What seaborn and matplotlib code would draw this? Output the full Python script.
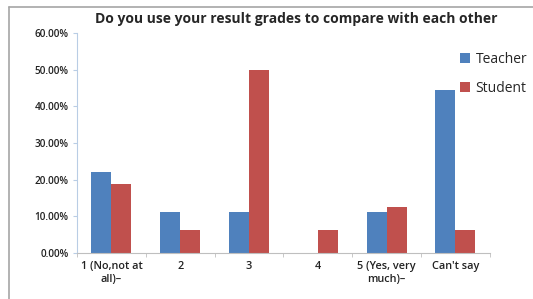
import numpy as np
import pandas as pd
import matplotlib
matplotlib.use("Agg")
import matplotlib.pyplot as plt
from matplotlib.ticker import FuncFormatter, FixedLocator
import seaborn as sns

categories = ["1 (No,not at\nall)\u2013", "2", "3", "4", "5 (Yes, very\nmuch)\u2013", "Can't say"]
teacher = [0.2222, 0.1111, 0.1111, 0.0, 0.1111, 0.4444]
student = [0.1875, 0.0625, 0.50, 0.0625, 0.125, 0.0625]
series = ["Teacher", "Student"]
colors = {"Teacher": "#4F81BD", "Student": "#C0504D"}

df = pd.DataFrame({
    "cat": categories * 2,
    "value": teacher + student,
    "series": ["Teacher"] * len(categories) + ["Student"] * len(categories),
})

sns.set_style("white")
plt.rcParams['font.family'] = ['Open Sans', 'DejaVu Sans']

fig = plt.figure(figsize=(5.33, 2.99), dpi=100)
ax = fig.add_axes([0.1445, 0.154, 0.7745, 0.7356])

sns.barplot(data=df, x="cat", y="value", hue="series", palette=colors,
            width=0.58, ax=ax, saturation=1, legend=True, linewidth=0)

ax.set_ylim(0, 0.6)
ax.set_yticks(np.arange(0, 0.61, 0.1))
ax.yaxis.set_major_formatter(FuncFormatter(lambda v, p: f"{v*100:.2f}%"))
ax.set_xlim(-0.5, len(categories) - 0.5)
ax.set_xlabel("")
ax.set_ylabel("")

for s in ["top", "right"]:
    ax.spines[s].set_visible(False)
ax.spines["left"].set_color("#B9CDE5")
ax.spines["left"].set_linewidth(0.8)
ax.spines["bottom"].set_color("#BFBFBF")
ax.spines["bottom"].set_linewidth(0.8)

ax.tick_params(axis="y", length=3, color="#B9CDE5", labelsize=7.2, pad=3, left=True,
               labelcolor="#222222")
ax.tick_params(axis="x", length=0, labelsize=7.8, pad=6, labelcolor="#222222")
for lbl in ax.get_xticklabels() + ax.get_yticklabels():
    lbl.set_fontweight("semibold")
ax.xaxis.set_minor_locator(FixedLocator(np.arange(-0.5, len(categories), 1.0)))
ax.tick_params(axis="x", which="minor", length=3, color="#BFBFBF", bottom=True)

ax.set_title("Do you use your result grades to compare with each other",
             fontsize=10, fontweight="bold", pad=7, x=0.53)

handles, labels = ax.get_legend_handles_labels()
ax.legend(handles, labels, loc="upper left", bbox_to_anchor=(0.915, 0.94),
          frameon=False, fontsize=10, handlelength=0.7, handleheight=0.7,
          handletextpad=0.4, labelspacing=1.0, borderaxespad=0)

fig.add_artist(plt.Line2D([0.016, 0.016], [0.0, 0.977], color="#A6A6A6", lw=1.2,
                          transform=fig.transFigure))
fig.add_artist(plt.Line2D([0.016, 1.0], [0.977, 0.977], color="#A6A6A6", lw=1.2,
                          transform=fig.transFigure))

fig.savefig("out.png", dpi=100)
